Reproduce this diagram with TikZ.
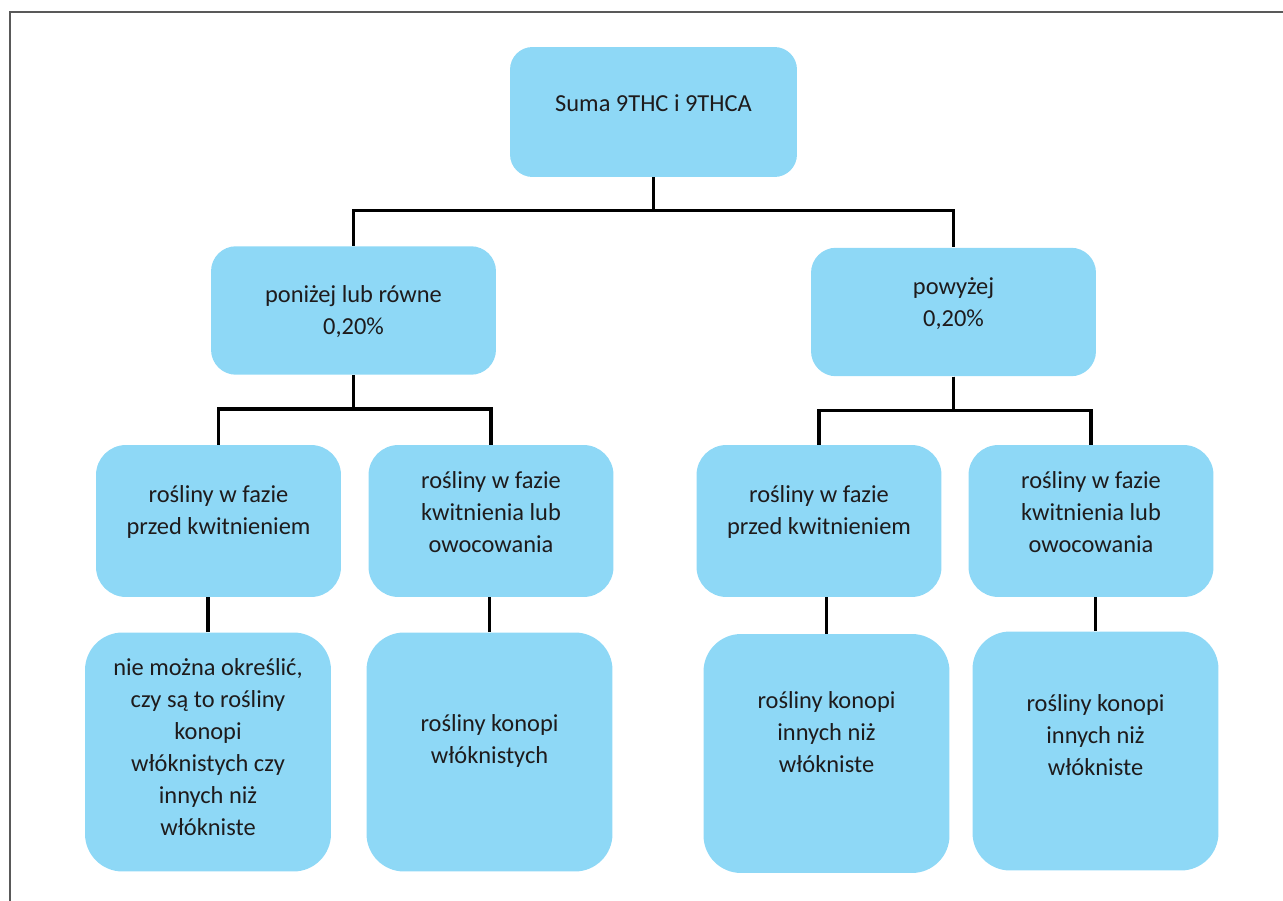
\documentclass[tikz,border=0pt]{standalone}
\usepackage{fontspec}
\setmainfont{Carlito}
\usepackage{tikz}
\usetikzlibrary{positioning, calc}
\definecolor{boxblue}{RGB}{142,216,246}
\definecolor{inkdark}{RGB}{30,27,28}
\definecolor{framegray}{RGB}{89,89,89}
\tikzset{
  box/.style={rectangle, fill=boxblue, draw=none, inner sep=0pt},
  rootbox/.style={box, minimum width=5.74cm, minimum height=2.6cm, rounded corners=0.45cm},
  midbox/.style={box, minimum width=5.7cm, minimum height=2.57cm, rounded corners=0.5cm},
  phasebox/.style={box, minimum width=4.9cm, minimum height=3.04cm, rounded corners=0.6cm},
  leafbox/.style={box, minimum width=4.92cm, minimum height=4.78cm, rounded corners=0.75cm},
  txt/.style={align=center, text=inkdark, inner sep=0pt,
    font=\fontsize{13.9}{18.2}\selectfont},
  line/.style={line width=0.07cm, color=black},
  frameline/.style={line width=0.04cm, color=framegray}
}
\begin{document}
\begin{tikzpicture}[x=0.02cm, y=-0.02cm]
  \useasboundingbox (0,0) rectangle (1283,901);
  % Frame
  \draw[frameline] (10,901) -- (10,12.5) -- (1283,12.5);

  % Root
  \node[rootbox] (sum) at (653.5,112) {};
  \node[txt] (sumtxt) at (653.5,103) {Suma 9THC i 9THCA};

  % Level 2
  \node[midbox] (low) at (353.5,310.5) {};
  \node[txt] (lowtxt) at (353.5,312) {poniżej lub równe\\0,20\%};
  \node[midbox] (high) at (953.5,312) {};
  \node[txt] (hightxt) at (953.5,303.5) {powyżej\\0,20\%};

  % Level 3
  \node[phasebox] (lowpre) at (218.5,521) {};
  \node[txt] (lowpretxt) at (218.5,512) {rośliny w fazie\\przed kwitnieniem};
  \node[phasebox] (lowflow) at (491,521) {};
  \node[txt] (lowflowtxt) at (491,512) {rośliny w fazie\\kwitnienia lub\\owocowania};
  \node[phasebox] (highpre) at (819,521) {};
  \node[txt] (highpretxt) at (819,512) {rośliny w fazie\\przed kwitnieniem};
  \node[phasebox] (highflow) at (1091,521) {};
  \node[txt] (highflowtxt) at (1091,512) {rośliny w fazie\\kwitnienia lub\\owocowania};

  % Level 4
  \node[leafbox] (res1) at (208,752) {};
  \node[txt] (res1txt) at (208,747) {nie można określić,\\czy są to rośliny\\konopi\\włóknistych czy\\innych niż\\włókniste};
  \node[leafbox] (res2) at (489.5,752) {};
  \node[txt] (res2txt) at (489.5,741) {rośliny konopi\\włóknistych};
  \node[leafbox] (res3) at (826.5,753.5) {};
  \node[txt] (res3txt) at (826.5,732) {rośliny konopi\\innych niż\\włókniste};
  \node[leafbox] (res4) at (1095.5,751) {};
  \node[txt] (res4txt) at (1095.5,735) {rośliny konopi\\innych niż\\włókniste};

  % Connections: root to level 2
  \draw[line] (sum.south) -- ++(0,33) -| (low.north);
  \draw[line] (sum.south) -- ++(0,33) -| (high.north);

  % Connections: level 2 to level 3
  \draw[line] (low.south) -- ++(0,34) -| (lowpre.north);
  \draw[line] (low.south) -- ++(0,34) -| (lowflow.north);
  \draw[line] (high.south) -- ++(0,34) -| (highpre.north);
  \draw[line] (high.south) -- ++(0,34) -| (highflow.north);

  % Connections: level 3 to level 4
  \draw[line] (res1.north) -- (res1.north |- lowpre.south);
  \draw[line] (res2.north) -- (res2.north |- lowflow.south);
  \draw[line] (res3.north) -- (res3.north |- highpre.south);
  \draw[line] (res4.north) -- (res4.north |- highflow.south);
\end{tikzpicture}
\end{document}
